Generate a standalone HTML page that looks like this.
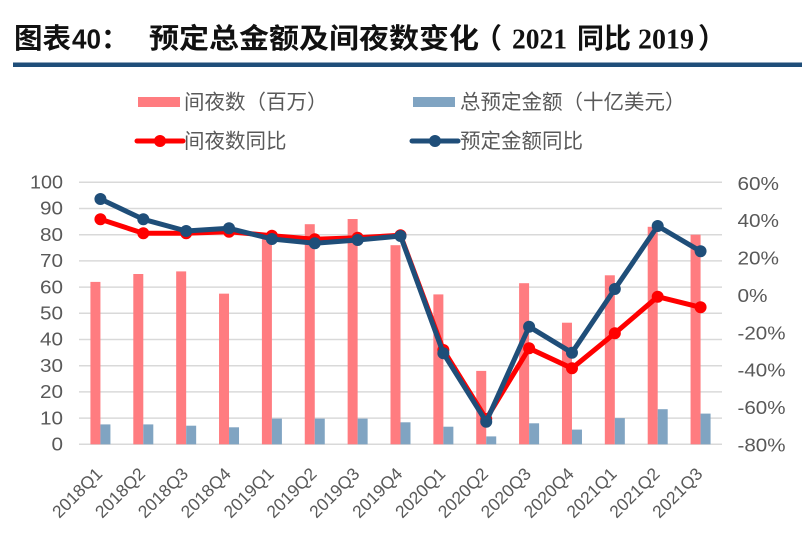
<!DOCTYPE html>
<html><head><meta charset="utf-8"><style>
html,body{margin:0;padding:0;background:#fff;}
svg{display:block;}
</style></head><body>
<svg width="802" height="539" viewBox="0 0 802 539" xmlns="http://www.w3.org/2000/svg">
<!-- Title -->
<g font-family="'Liberation Sans','Noto Sans CJK SC',sans-serif" font-weight="700" fill="#111">
<text x="14" y="48" font-size="28" textLength="57" lengthAdjust="spacingAndGlyphs">图表</text>
<text x="72" y="48.5" font-size="28" textLength="29" lengthAdjust="spacingAndGlyphs">40</text>
<text x="101" y="48" font-size="28">：</text>
<text x="149" y="48" font-size="28" textLength="330" lengthAdjust="spacingAndGlyphs">预定总金额及间夜数变化</text>
<text x="474" y="48" font-size="28">（</text>
<text x="512" y="48.5" font-size="29" font-family="'Liberation Serif',serif" textLength="55" lengthAdjust="spacingAndGlyphs">2021</text>
<text x="577" y="48" font-size="28" textLength="54" lengthAdjust="spacingAndGlyphs">同比</text>
<text x="638" y="48.5" font-size="29" font-family="'Liberation Serif',serif" textLength="56" lengthAdjust="spacingAndGlyphs">2019</text>
<text x="698" y="48" font-size="28">）</text>
</g>
<rect x="13" y="62.5" width="789" height="4.5" fill="#1f4e79"/>

<!-- Legend -->
<g font-family="'Liberation Sans','Noto Sans CJK SC',sans-serif" font-size="20.5" fill="#595959">
<rect x="138" y="97" width="42" height="10" fill="#ff7c80"/>
<text x="184" y="109">间夜数（百万）</text>
<rect x="413" y="97" width="42" height="10" fill="#80a4c2"/>
<text x="460" y="109">总预定金额（十亿美元）</text>
<line x1="137" y1="141" x2="183" y2="141" stroke="#ff0000" stroke-width="5" stroke-linecap="round"/>
<circle cx="160" cy="141" r="6" fill="#ff0000"/>
<text x="184" y="148">间夜数同比</text>
<line x1="412" y1="141" x2="458" y2="141" stroke="#1f4e79" stroke-width="5" stroke-linecap="round"/>
<circle cx="435" cy="141" r="6" fill="#1f4e79"/>
<text x="460" y="148">预定金额同比</text>
</g>

<!-- Gridlines -->
<g stroke="#d9d9d9" stroke-width="1.5">
<line x1="79" x2="722" y1="444.3" y2="444.3"/>
<line x1="79" x2="722" y1="418.1" y2="418.1"/>
<line x1="79" x2="722" y1="391.9" y2="391.9"/>
<line x1="79" x2="722" y1="365.7" y2="365.7"/>
<line x1="79" x2="722" y1="339.5" y2="339.5"/>
<line x1="79" x2="722" y1="313.3" y2="313.3"/>
<line x1="79" x2="722" y1="287.1" y2="287.1"/>
<line x1="79" x2="722" y1="260.9" y2="260.9"/>
<line x1="79" x2="722" y1="234.7" y2="234.7"/>
<line x1="79" x2="722" y1="208.5" y2="208.5"/>
<line x1="79" x2="722" y1="182.3" y2="182.3"/>
</g>

<!-- Left axis labels -->
<g font-family="'Liberation Sans',sans-serif" font-size="18" fill="#595959" text-anchor="end">
<text x="63" y="450.5" textLength="11.5" lengthAdjust="spacingAndGlyphs">0</text>
<text x="63" y="424.3" textLength="23" lengthAdjust="spacingAndGlyphs">10</text>
<text x="63" y="398.1" textLength="23" lengthAdjust="spacingAndGlyphs">20</text>
<text x="63" y="371.9" textLength="23" lengthAdjust="spacingAndGlyphs">30</text>
<text x="63" y="345.7" textLength="23" lengthAdjust="spacingAndGlyphs">40</text>
<text x="63" y="319.5" textLength="23" lengthAdjust="spacingAndGlyphs">50</text>
<text x="63" y="293.3" textLength="23" lengthAdjust="spacingAndGlyphs">60</text>
<text x="63" y="267.1" textLength="23" lengthAdjust="spacingAndGlyphs">70</text>
<text x="63" y="240.9" textLength="23" lengthAdjust="spacingAndGlyphs">80</text>
<text x="63" y="214.7" textLength="23" lengthAdjust="spacingAndGlyphs">90</text>
<text x="63" y="188.5" textLength="33" lengthAdjust="spacingAndGlyphs">100</text>
</g>

<!-- Right axis labels -->
<g font-family="'Liberation Sans',sans-serif" font-size="18" fill="#595959">
<text x="737.5" y="189.8" textLength="41.5" lengthAdjust="spacingAndGlyphs">60%</text>
<text x="737.5" y="227.2" textLength="41.5" lengthAdjust="spacingAndGlyphs">40%</text>
<text x="737.5" y="264.6" textLength="41.5" lengthAdjust="spacingAndGlyphs">20%</text>
<text x="737.5" y="301.9" textLength="30" lengthAdjust="spacingAndGlyphs">0%</text>
<text x="737.5" y="339.3" textLength="48" lengthAdjust="spacingAndGlyphs">-20%</text>
<text x="737.5" y="376.7" textLength="48" lengthAdjust="spacingAndGlyphs">-40%</text>
<text x="737.5" y="414.1" textLength="48" lengthAdjust="spacingAndGlyphs">-60%</text>
<text x="737.5" y="451.4" textLength="48" lengthAdjust="spacingAndGlyphs">-80%</text>
</g>

<!-- Red bars -->
<g fill="#ff7c80">
<rect x="90.43" y="281.9" width="10" height="162.4"/>
<rect x="133.3" y="274.0" width="10" height="170.3"/>
<rect x="176.17" y="271.4" width="10" height="172.9"/>
<rect x="219.03" y="293.65" width="10" height="150.65"/>
<rect x="261.9" y="238.4" width="10" height="205.9"/>
<rect x="304.77" y="224.2" width="10" height="220.1"/>
<rect x="347.63" y="219.0" width="10" height="225.3"/>
<rect x="390.5" y="245.2" width="10" height="199.1"/>
<rect x="433.37" y="294.4" width="10" height="149.9"/>
<rect x="476.23" y="370.9" width="10" height="73.4"/>
<rect x="519.1" y="283.2" width="10" height="161.1"/>
<rect x="561.97" y="322.7" width="10" height="121.6"/>
<rect x="604.83" y="275.3" width="10" height="169.0"/>
<rect x="647.7" y="226.8" width="10" height="217.5"/>
<rect x="690.57" y="234.7" width="10" height="209.6"/>
</g>
<!-- Blue bars -->
<g fill="#80a4c2">
<rect x="100.43" y="424.4" width="10" height="19.9"/>
<rect x="143.3" y="424.4" width="10" height="19.9"/>
<rect x="186.17" y="425.7" width="10" height="18.6"/>
<rect x="229.03" y="427.3" width="10" height="17.0"/>
<rect x="271.9" y="418.6" width="10" height="25.7"/>
<rect x="314.77" y="418.6" width="10" height="25.7"/>
<rect x="357.63" y="418.6" width="10" height="25.7"/>
<rect x="400.5" y="422.3" width="10" height="22.0"/>
<rect x="443.37" y="426.7" width="10" height="17.6"/>
<rect x="486.23" y="436.4" width="10" height="7.9"/>
<rect x="529.1" y="423.3" width="10" height="21.0"/>
<rect x="571.97" y="429.6" width="10" height="14.7"/>
<rect x="614.83" y="418.1" width="10" height="26.2"/>
<rect x="657.7" y="409.2" width="10" height="35.1"/>
<rect x="700.57" y="413.6" width="10" height="30.7"/>
</g>

<!-- Red line -->
<polyline fill="none" stroke="#ff0000" stroke-width="5" stroke-linejoin="round"
points="100.43,219.3 143.3,233.3 186.17,233.3 229.03,231.7 271.9,235.7 314.77,239.3 357.63,237.7 400.5,235.3 443.37,350 486.23,419 529.1,348.3 571.97,368.3 614.83,333.3 657.7,296.7 700.57,307.3"/>
<g fill="#ff0000">
<circle cx="100.43" cy="219.3" r="6"/><circle cx="143.3" cy="233.3" r="6"/><circle cx="186.17" cy="233.3" r="6"/><circle cx="229.03" cy="231.7" r="6"/><circle cx="271.9" cy="235.7" r="6"/><circle cx="314.77" cy="239.3" r="6"/><circle cx="357.63" cy="237.7" r="6"/><circle cx="400.5" cy="235.3" r="6"/><circle cx="443.37" cy="350" r="6"/><circle cx="486.23" cy="419" r="6"/><circle cx="529.1" cy="348.3" r="6"/><circle cx="571.97" cy="368.3" r="6"/><circle cx="614.83" cy="333.3" r="6"/><circle cx="657.7" cy="296.7" r="6"/><circle cx="700.57" cy="307.3" r="6"/>
</g>

<!-- Blue line -->
<polyline fill="none" stroke="#1f4e79" stroke-width="5" stroke-linejoin="round"
points="100.43,199 143.3,219.3 186.17,231 229.03,228.3 271.9,239 314.77,243.3 357.63,240 400.5,236 443.37,353.3 486.23,421.7 529.1,326.7 571.97,352.7 614.83,289 657.7,226 700.57,251.3"/>
<g fill="#1f4e79">
<circle cx="100.43" cy="199" r="6"/><circle cx="143.3" cy="219.3" r="6"/><circle cx="186.17" cy="231" r="6"/><circle cx="229.03" cy="228.3" r="6"/><circle cx="271.9" cy="239" r="6"/><circle cx="314.77" cy="243.3" r="6"/><circle cx="357.63" cy="240" r="6"/><circle cx="400.5" cy="236" r="6"/><circle cx="443.37" cy="353.3" r="6"/><circle cx="486.23" cy="421.7" r="6"/><circle cx="529.1" cy="326.7" r="6"/><circle cx="571.97" cy="352.7" r="6"/><circle cx="614.83" cy="289" r="6"/><circle cx="657.7" cy="226" r="6"/><circle cx="700.57" cy="251.3" r="6"/>
</g>

<!-- X labels -->
<g font-family="'Liberation Sans',sans-serif" font-size="17.5" fill="#595959" text-anchor="end">
<text transform="translate(103.4,475) rotate(-45)">2018Q1</text>
<text transform="translate(146.3,475) rotate(-45)">2018Q2</text>
<text transform="translate(189.2,475) rotate(-45)">2018Q3</text>
<text transform="translate(232.0,475) rotate(-45)">2018Q4</text>
<text transform="translate(274.9,475) rotate(-45)">2019Q1</text>
<text transform="translate(317.8,475) rotate(-45)">2019Q2</text>
<text transform="translate(360.6,475) rotate(-45)">2019Q3</text>
<text transform="translate(403.5,475) rotate(-45)">2019Q4</text>
<text transform="translate(446.4,475) rotate(-45)">2020Q1</text>
<text transform="translate(489.2,475) rotate(-45)">2020Q2</text>
<text transform="translate(532.1,475) rotate(-45)">2020Q3</text>
<text transform="translate(575.0,475) rotate(-45)">2020Q4</text>
<text transform="translate(617.8,475) rotate(-45)">2021Q1</text>
<text transform="translate(660.7,475) rotate(-45)">2021Q2</text>
<text transform="translate(703.6,475) rotate(-45)">2021Q3</text>
</g>
</svg>
</body></html>
